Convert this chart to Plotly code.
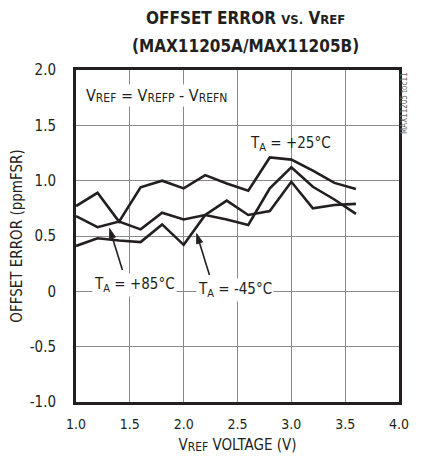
import math
import plotly.graph_objects as go

vref = [1.0, 1.2, 1.4, 1.6, 1.8, 2.0, 2.2, 2.4, 2.6, 2.8, 3.0, 3.2, 3.4, 3.6]
err_25 = [0.77, 0.89, 0.63, 0.94, 1.00, 0.93, 1.05, 0.975, 0.91, 1.21, 1.19, 1.09, 0.98, 0.925]
err_85 = [0.68, 0.58, 0.63, 0.56, 0.71, 0.65, 0.69, 0.65, 0.60, 0.93, 1.12, 0.945, 0.83, 0.70]
err_m45 = [0.41, 0.48, 0.46, 0.445, 0.605, 0.42, 0.69, 0.82, 0.69, 0.725, 0.99, 0.75, 0.78, 0.79]

x_ticks = [1.0, 1.5, 2.0, 2.5, 3.0, 3.5, 4.0]
x_tick_labels = ["1.0", "1.5", "2.0", "2.5", "3.0", "3.5", "4.0"]
y_ticks = [-1.0, -0.5, 0, 0.5, 1.0, 1.5, 2.0]
y_tick_labels = ["-1.0", "-0.5", "0", "0.5", "1.0", "1.5", "2.0"]

FONT = "DejaVu Sans Condensed, Liberation Sans, sans-serif"
INK = "#231f20"

# page geometry (the page body adds an 8 px margin; the visible width ends near x=409)
OFF = 8
W, H = 424 - OFF, 446
PL, PR, PT, PB = 76, 399, 70, 402          # plot area in page pixels
ML, MT = PL - OFF, PT - OFF
MR, MB = W - (PR - OFF), H - (PB - OFF)
X0, X1, Y0, Y1 = 1.0, 4.0, -1.0, 2.0


def px2data(px, py):
    return (X0 + (px - PL) / (PR - PL) * (X1 - X0), Y0 + (PB - py) / (PB - PT) * (Y1 - Y0))


def small(s, size, shift=None):
    st = f"font-size:{size}px"
    if shift:
        st += f";baseline-shift:{shift}px"
    return f'<span style="{st}">{s}</span>'


fig = go.Figure()
for ys in (err_25, err_85, err_m45):
    fig.add_trace(go.Scatter(x=vref, y=ys, mode="lines",
                             line=dict(color=INK, width=2.6), showlegend=False,
                             hoverinfo="skip"))

TA = "T" + small("A", 11, -3)
ann = []
ann.append(dict(x=1.75, y=1.773, xref="x", yref="y", showarrow=False,
                text="V" + small("REF", 12, -1) + " = V" + small("REFP", 12, -1)
                     + " - V" + small("REFN", 12, -1),
                font=dict(size=16, color=INK, family=FONT), bgcolor="white",
                xanchor="center", yanchor="middle"))
ann.append(dict(x=2.99, y=1.33, xref="x", yref="y", showarrow=False,
                text=TA + " = +25°C",
                font=dict(size=15, color=INK, family=FONT),
                xanchor="center", yanchor="middle"))
ann.append(dict(x=1.54, y=0.06, xref="x", yref="y", showarrow=False,
                text=TA + " = +85°C", bgcolor="white",
                font=dict(size=15, color=INK, family=FONT),
                xanchor="center", yanchor="middle"))
ann.append(dict(x=2.48, y=0.015, xref="x", yref="y", showarrow=False,
                text=TA + " = -45°C", bgcolor="white",
                font=dict(size=15, color=INK, family=FONT),
                xanchor="center", yanchor="middle"))
# title (two lines)
ann.append(dict(x=0.5, y=1.0, xref="paper", yref="paper", xshift=8, yshift=52, showarrow=False,
                text="<b>OFFSET ERROR " + small("VS.", 13) + " V" + small("REF", 13) + "</b>",
                font=dict(size=17, color=INK, family=FONT),
                xanchor="center", yanchor="middle"))
ann.append(dict(x=0.5, y=1.0, xref="paper", yref="paper", xshift=8, yshift=24, showarrow=False,
                text="<b>(MAX11205A/MAX11205B)</b>",
                font=dict(size=17, color=INK, family=FONT),
                xanchor="center", yanchor="middle"))
# side code
ann.append(dict(x=1.0, y=1.0, xref="paper", yref="paper", xshift=5, showarrow=False,
                text="MAX11205 toc11", textangle=-90,
                font=dict(size=8, color="#666666", family=FONT),
                xanchor="center", yanchor="top"))

# arrows as shapes (tail -> tip, estimated in reference-pixel terms, mapped to data)
ref_map = lambda x, y: ((x - 82) / 334 * 3 + 1, -1 + (402 - y) / 332 * 3)
shapes = []
for tail, tip in (((130, 270), (116.7, 228.5)), ((220, 275), (206.7, 233.5))):
    # convert reference pixels -> data -> current page pixels
    def to_page(p):
        dx_, dy_ = ref_map(*p)
        return (PL + (dx_ - X0) / (X1 - X0) * (PR - PL), PB - (dy_ - Y0) / (Y1 - Y0) * (PB - PT))
    tx, ty = to_page(tail)
    hx, hy = to_page(tip)
    dx, dy = tx - hx, ty - hy
    L = math.hypot(dx, dy)
    ux, uy = dx / L, dy / L
    bx, by = hx + 10 * ux, hy + 10 * uy
    pxv, pyv = -uy, ux
    a = px2data(hx, hy)
    b1 = px2data(bx + 3.2 * pxv, by + 3.2 * pyv)
    b2 = px2data(bx - 3.2 * pxv, by - 3.2 * pyv)
    t = px2data(tx, ty)
    m = px2data(bx, by)
    shapes.append(dict(type="line", xref="x", yref="y", x0=t[0], y0=t[1], x1=m[0], y1=m[1],
                       line=dict(color=INK, width=1.6)))
    shapes.append(dict(type="path", xref="x", yref="y",
                       path=f"M{a[0]},{a[1]} L{b1[0]},{b1[1]} L{b2[0]},{b2[1]} Z",
                       fillcolor=INK, line=dict(color=INK, width=0.8)))

fig.update_layout(
    width=W, height=H,
    margin=dict(l=ML, r=MR, t=MT, b=MB, autoexpand=False),
    paper_bgcolor="white", plot_bgcolor="white",
    font=dict(family=FONT, color=INK, size=15),
    annotations=ann, shapes=shapes,
    xaxis=dict(range=[X0, X1], tickvals=x_ticks, ticktext=x_tick_labels, automargin=False,
               showgrid=True, gridcolor="#8a8a8a", gridwidth=1,
               showline=True, linecolor=INK, linewidth=3, mirror=True,
               ticks="", zeroline=False, tickfont=dict(size=14), ticklabelstandoff=7,
               title=dict(text="V" + small("REF", 12, -1) + " VOLTAGE (V)",
                          font=dict(size=15), standoff=17)),
    yaxis=dict(range=[Y0, Y1], tickvals=y_ticks, ticktext=y_tick_labels, automargin=False,
               showgrid=True, gridcolor="#8a8a8a", gridwidth=1,
               showline=True, linecolor=INK, linewidth=3, mirror=True,
               ticks="", zeroline=False, tickfont=dict(size=15), ticklabelstandoff=14,
               title=dict(text="OFFSET ERROR (ppmFSR)", font=dict(size=15), standoff=12)),
)

fig.write_html("out.html")
